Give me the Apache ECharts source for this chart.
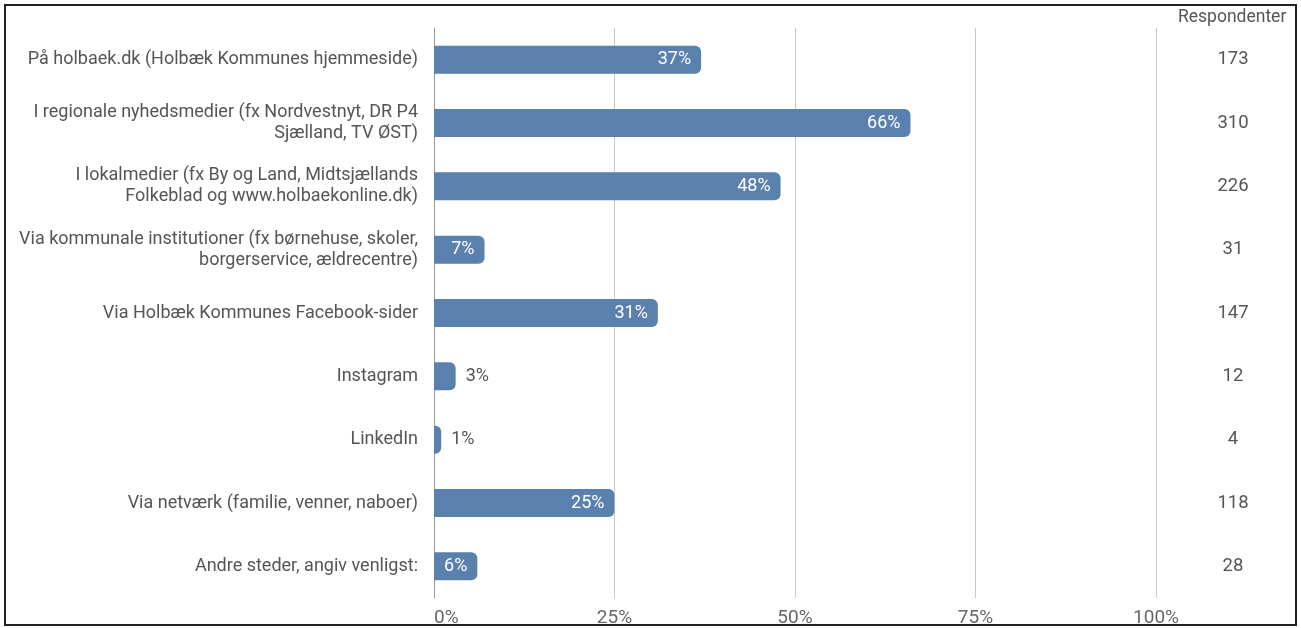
<!DOCTYPE html>
<html><head><meta charset="utf-8">
<script src="https://cdn.jsdelivr.net/npm/echarts@6/dist/echarts.min.js"></script>
<style>html,body{margin:0;padding:0;background:#fff}#c{width:1301px;height:628px}</style>
</head><body><div id="c"></div>
<script>
const categories = [
  'På holbaek.dk (Holbæk Kommunes hjemmeside)',
  'I regionale nyhedsmedier (fx Nordvestnyt, DR P4\nSjælland, TV ØST)',
  'I lokalmedier (fx By og Land, Midtsjællands\nFolkeblad og www.holbaekonline.dk)',
  'Via kommunale institutioner (fx børnehuse, skoler,\nborgerservice, ældrecentre)',
  'Via Holbæk Kommunes Facebook-sider',
  'Instagram',
  'LinkedIn',
  'Via netværk (familie, venner, naboer)',
  'Andre steder, angiv venligst:'
];
const percentValues = [37, 66, 48, 7, 31, 3, 1, 25, 6];
const respondents = [173, 310, 226, 31, 147, 12, 4, 118, 28];
const xTicks = [0, 25, 50, 75, 100];

const chart = echarts.init(document.getElementById('c'));
const font = 'Roboto';
chart.setOption({
  animation: false,
  textStyle: { fontFamily: font },
  graphic: [
    { type: 'rect', shape: { x: 5, y: 5, width: 1291, height: 620 }, style: { fill: 'none', stroke: '#222', lineWidth: 2 }, silent: true },
    { type: 'text', left: 1178, top: 9, style: { text: 'Respondenter', fill: '#555', font: '17.5px Roboto' } }
  ],
  grid: { left: 434, right: 145, top: 28, bottom: 29, containLabel: false },
  xAxis: {
    type: 'value', min: 0, max: 100, interval: 25,
    axisLabel: { formatter: v => v + '%', color: '#666', fontSize: 19, margin: 11, alignMinLabel: 'left' },
    splitLine: { lineStyle: { color: '#c8c8c8', width: 1 } },
    axisLine: { show: false }, axisTick: { show: false }
  },
  yAxis: [
    {
      type: 'category', data: categories, inverse: true,
      axisLabel: { color: '#555', fontSize: 18, margin: 16, lineHeight: 21, align: 'right', padding: [4, 0, 0, 0] },
      axisLine: { show: true, lineStyle: { color: '#999' } }, axisTick: { show: false }
    },
    {
      type: 'category', data: respondents.map(String), inverse: true, position: 'right',
      axisLabel: { color: '#555', fontSize: 18.5, margin: 77, align: 'center', padding: [4, 0, 0, 0] },
      axisLine: { show: false }, axisTick: { show: false }
    }
  ],
  series: [{
    type: 'bar', barWidth: 28,
    itemStyle: { color: '#5a80ad', borderRadius: [0, 6, 6, 0] },
    data: percentValues.map(v => ({
      value: v,
      label: v < 5
        ? { show: true, position: 'right', distance: 10, color: '#555' }
        : { show: true, position: 'insideRight', distance: 10, color: '#fff' }
    })),
    label: { show: true, formatter: p => p.value + '%', fontSize: 18, padding: [3, 0, 0, 0] }
  }]
});
</script></body></html>
